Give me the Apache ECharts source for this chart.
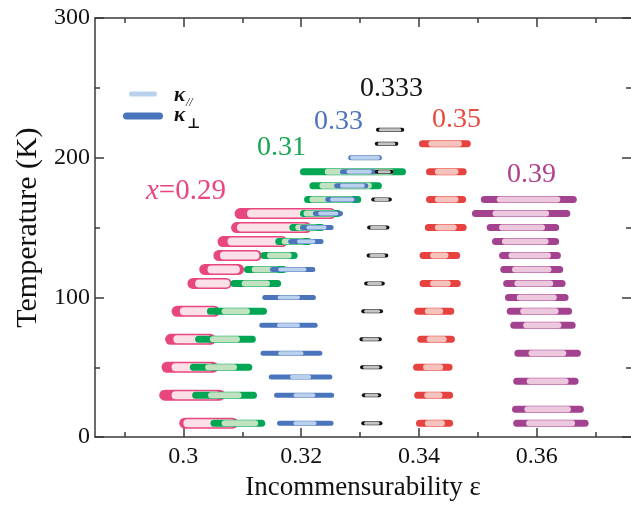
<!DOCTYPE html>
<html>
<head>
<meta charset="utf-8">
<script src="https://cdn.jsdelivr.net/npm/echarts@6.0.0/dist/echarts.min.js"></script>
<style>
  html, body { margin: 0; padding: 0; background: #fff; }
  #chart { width: 631px; height: 506px; }
</style>
</head>
<body>
<div id="chart"></div>
<script>
// temperatures (K) and eps ranges [lo, hi] for kappa_perp (outer) and kappa_par (inner)
const pinkT = [10, 30, 50, 70, 90, 110, 120, 130, 140, 150, 160]
const pinkPerp = [[0.2993, 0.3093], [0.2959, 0.3071], [0.2963, 0.3059], [0.2969, 0.3055], [0.2980, 0.3062], [0.3007, 0.3082], [0.3027, 0.3103], [0.3051, 0.3133], [0.3058, 0.3177], [0.3081, 0.3218], [0.3087, 0.3259]]
const pinkPar = [[0.3000, 0.3088], [0.2980, 0.3062], [0.2980, 0.3051], [0.2983, 0.3048], [0.2994, 0.3057], [0.3020, 0.3079], [0.3041, 0.3096], [0.3062, 0.3129], [0.3075, 0.3173], [0.3091, 0.3212], [0.3108, 0.3255]]

const greenT = [10, 30, 50, 70, 90, 110, 120, 130, 140, 150, 160, 170, 180, 190]
const greenPerp = [[0.3046, 0.3139], [0.3015, 0.3125], [0.3011, 0.3117], [0.3020, 0.3123], [0.3040, 0.3142], [0.3080, 0.3166], [0.3103, 0.3176], [0.3131, 0.3194], [0.3156, 0.3218], [0.3180, 0.3240], [0.3198, 0.3268], [0.3205, 0.3302], [0.3214, 0.3337], [0.3198, 0.3378]]
const greenPar = [[0.3065, 0.3127], [0.3042, 0.3099], [0.3037, 0.3091], [0.3045, 0.3096], [0.3065, 0.3113], [0.3099, 0.3147], [0.3116, 0.3164], [0.3142, 0.3184], [0.3167, 0.3207], [0.3190, 0.3229], [0.3204, 0.3259], [0.3214, 0.3290], [0.3231, 0.3320], [0.3240, 0.3357]]

const blueT = [10, 30, 43, 60, 80, 100, 120, 140, 150, 160, 170, 180, 190, 200]
const bluePerp = [[0.3159, 0.3255], [0.3154, 0.3256], [0.3145, 0.3253], [0.3131, 0.3236], [0.3129, 0.3228], [0.3134, 0.3225], [0.3147, 0.3224], [0.3178, 0.3238], [0.3198, 0.3255], [0.3220, 0.3271], [0.3241, 0.3295], [0.3256, 0.3314], [0.3266, 0.3328], [0.3280, 0.3337]]
const bluePar = [[0.3187, 0.3226], [0.3187, 0.3224], [0.3181, 0.3217], [0.3161, 0.3204], [0.3159, 0.3198], [0.3160, 0.3198], [0.3161, 0.3209], [0.3193, 0.3224], [0.3209, 0.3243], [0.3229, 0.3263], [0.3249, 0.3290], [0.3266, 0.3308], [0.3277, 0.3320], [0.3283, 0.3334]]

const blackT = [10, 30, 50, 70, 90, 110, 130, 150, 170, 190, 210, 220]
const blackPerp = [[0.3302, 0.3338], [0.3303, 0.3336], [0.3300, 0.3338], [0.3299, 0.3337], [0.3302, 0.3339], [0.3307, 0.3342], [0.3311, 0.3348], [0.3312, 0.3350], [0.3319, 0.3354], [0.3325, 0.3357], [0.3325, 0.3365], [0.3327, 0.3375]]
const blackPar = [[0.3307, 0.3333], [0.3308, 0.3331], [0.3305, 0.3333], [0.3304, 0.3332], [0.3307, 0.3334], [0.3312, 0.3337], [0.3316, 0.3343], [0.3317, 0.3345], [0.3324, 0.3349], [0.3330, 0.3352], [0.3330, 0.3360], [0.3332, 0.3370]]

const redT = [10, 30, 50, 70, 90, 110, 130, 150, 170, 190, 210]
const redPerp = [[0.3395, 0.3458], [0.3392, 0.3458], [0.3390, 0.3457], [0.3397, 0.3461], [0.3392, 0.3460], [0.3401, 0.3471], [0.3401, 0.3470], [0.3410, 0.3481], [0.3412, 0.3480], [0.3412, 0.3481], [0.3400, 0.3488]]
const redPar = [[0.3410, 0.3444], [0.3409, 0.3440], [0.3407, 0.3441], [0.3413, 0.3447], [0.3410, 0.3441], [0.3419, 0.3454], [0.3419, 0.3450], [0.3427, 0.3464], [0.3427, 0.3467], [0.3427, 0.3467], [0.3416, 0.3473]]

const purpleT = [10, 20, 40, 60, 80, 90, 100, 110, 120, 130, 140, 150, 160, 170]
const purplePerp = [[0.3560, 0.3688], [0.3558, 0.3680], [0.3560, 0.3671], [0.3562, 0.3675], [0.3555, 0.3666], [0.3549, 0.3660], [0.3546, 0.3654], [0.3543, 0.3649], [0.3538, 0.3645], [0.3536, 0.3641], [0.3524, 0.3638], [0.3515, 0.3638], [0.3490, 0.3657], [0.3505, 0.3668]]
const purplePar = [[0.3582, 0.3665], [0.3579, 0.3658], [0.3583, 0.3654], [0.3586, 0.3650], [0.3577, 0.3642], [0.3572, 0.3637], [0.3566, 0.3634], [0.3562, 0.3628], [0.3558, 0.3625], [0.3552, 0.3624], [0.3541, 0.3620], [0.3536, 0.3614], [0.3525, 0.3621], [0.3532, 0.3640]]

const majorTicks = [0.3, 0.32, 0.34, 0.36]
const minorTicks = [0.29, 0.31, 0.33, 0.35, 0.37]

const FONT = '"Liberation Serif", "DejaVu Serif", serif'
const AXIS = '#3a3a3a'

const chart = echarts.init(document.getElementById('chart'))

const toRows = (T, perp, par) => T.map((t, i) => [t, perp[i][0], perp[i][1], par[i][0], par[i][1]])

const barSeries = (name, T, perp, par, hOut, hIn, dark, light) => ({
  name: name,
  type: 'custom',
  xAxisIndex: 0,
  yAxisIndex: 0,
  data: toRows(T, perp, par),
  encode: { x: [1, 2, 3, 4], y: 0 },
  renderItem: (params, api) => {
    const t = api.value(0)
    const a = api.coord([api.value(1), t])
    const b = api.coord([api.value(2), t])
    const c = api.coord([api.value(3), t])
    const d = api.coord([api.value(4), t])
    return {
      type: 'group',
      children: [
        { type: 'rect', shape: { x: a[0], y: a[1] - hOut / 2, width: b[0] - a[0], height: hOut, r: hOut / 2 }, style: { fill: dark } },
        { type: 'rect', shape: { x: c[0], y: c[1] - hIn / 2, width: d[0] - c[0], height: hIn, r: hIn / 2 }, style: { fill: light } }
      ]
    }
  }
})

const xBase = (pos, ticks, len, showLine, showLabel) => ({
  type: 'value',
  position: pos,
  min: 0.285,
  max: 0.376,
  axisLine: { show: showLine, onZero: false, lineStyle: { color: AXIS, width: 1.5 } },
  axisTick: { show: true, inside: true, length: len, customValues: ticks, lineStyle: { color: AXIS, width: 1.5 } },
  axisLabel: { show: showLabel, customValues: ticks, fontFamily: FONT, fontSize: 24, color: '#111', margin: 8 },
  splitLine: { show: false }
})

const yBase = (pos, showLine, showLabel) => ({
  type: 'value',
  position: pos,
  min: 0,
  max: 300,
  interval: 100,
  axisLine: { show: showLine, onZero: false, lineStyle: { color: AXIS, width: 1.5 } },
  axisTick: { show: true, inside: true, length: 9, lineStyle: { color: AXIS, width: 1.5 } },
  minorTick: { show: true, splitNumber: 2, length: 5, lineStyle: { color: AXIS, width: 1.5 } },
  axisLabel: { show: showLabel, fontFamily: FONT, fontSize: 24, color: '#111', margin: 5 },
  splitLine: { show: false }
})

const bottomX = xBase('bottom', majorTicks, 9, true, true)
bottomX.name = 'Incommensurability ε'
bottomX.nameLocation = 'middle'
bottomX.nameGap = 33
bottomX.nameTextStyle = { fontFamily: FONT, fontSize: 27, color: '#111' }

const leftY = yBase('left', true, true)
leftY.name = 'Temperature (K)'
leftY.nameLocation = 'middle'
leftY.nameGap = 50
leftY.nameTextStyle = { fontFamily: FONT, fontSize: 30, color: '#111' }

const label = (text, x, y, color) => ({
  type: 'text', x: x, y: y,
  style: { text: text, fill: color, font: '28px ' + FONT, verticalAlign: 'middle' }
})

const option = {
  animation: false,
  backgroundColor: '#fff',
  grid: { left: 95, right: 0, top: 18, bottom: 66 },
  xAxis: [
    bottomX,
    xBase('bottom', minorTicks, 5, false, false),
    xBase('top', majorTicks, 9, true, false),
    xBase('top', minorTicks, 5, false, false)
  ],
  yAxis: [leftY, yBase('right', false, false)],
  series: [
    barSeries('0.29', pinkT, pinkPerp, pinkPar, 11, 8, '#e8467f', '#fbe0e8'),
    barSeries('0.31', greenT, greenPerp, greenPar, 7, 6, '#00a651', '#c0e2c1'),
    barSeries('0.33', blueT, bluePerp, bluePar, 5, 4, '#4a74bb', '#bad1ed'),
    barSeries('0.333', blackT, blackPerp, blackPar, 4, 3, '#111111', '#c4c4c4'),
    barSeries('0.35', redT, redPerp, redPar, 7, 6, '#e6423f', '#f6c3bc'),
    barSeries('0.39', purpleT, purplePerp, purplePar, 7, 6, '#a3428f', '#ecc7dd')
  ],
  graphic: [
    {
      type: 'text', x: 146, y: 191,
      style: {
        text: '{i|x}=0.29', fill: '#e8467f', font: '29px ' + FONT, verticalAlign: 'middle',
        rich: { i: { fontFamily: FONT, fontStyle: 'italic', fontSize: 29, fill: '#e8467f' } }
      }
    },
    label('0.31', 257, 148, '#1aa653'),
    label('0.33', 314, 122, '#4a74bb'),
    label('0.333', 360, 89, '#111'),
    label('0.35', 432, 120, '#e84a3c'),
    label('0.39', 507, 175, '#b0408e'),
    { type: 'rect', shape: { x: 129, y: 91.5, width: 28, height: 5, r: 2.5 }, style: { fill: '#bad1ed' } },
    { type: 'rect', shape: { x: 123, y: 112.5, width: 40, height: 7, r: 3.5 }, style: { fill: '#4a74bb' } },
    { type: 'text', x: 174, y: 96, style: { text: 'κ', fill: '#111', font: 'italic bold 21px ' + FONT, verticalAlign: 'middle' } },
    { type: 'text', x: 186, y: 103, style: { text: '//', fill: '#111', font: 'italic 12px ' + FONT, verticalAlign: 'middle' } },
    { type: 'text', x: 174, y: 116, style: { text: 'κ', fill: '#111', font: 'italic bold 21px ' + FONT, verticalAlign: 'middle' } },
    { type: 'text', x: 187, y: 124, style: { text: '⊥', fill: '#111', font: 'bold 14px ' + FONT, verticalAlign: 'middle' } }
  ]
}

chart.setOption(option)
</script>
</body>
</html>
